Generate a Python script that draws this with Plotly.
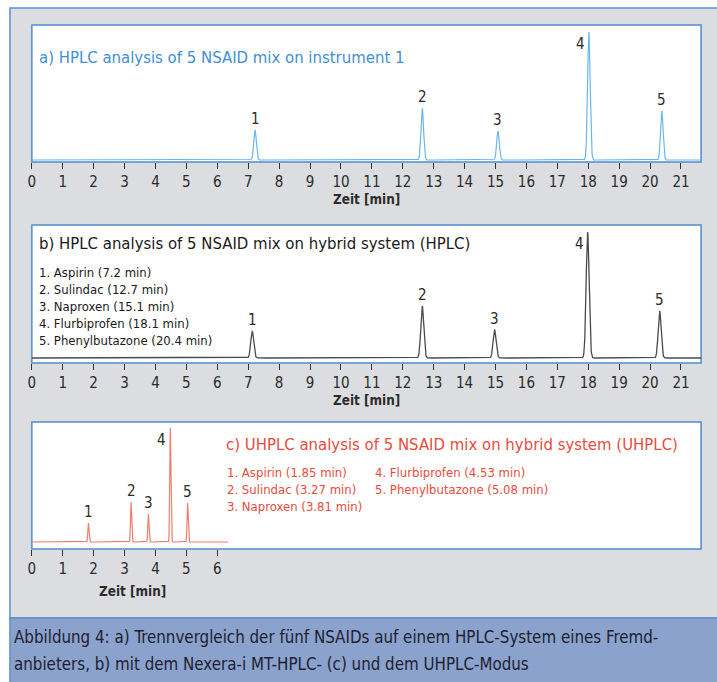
import numpy as np
import plotly.graph_objects as go

W, H = 717, 682

# ---- data ----
peak_ids = ["1", "2", "3", "4", "5"]
rt_a = [7.22, 12.63, 15.08, 18.02, 20.38]
h_a = [30, 52, 29, 128, 49]
rt_b = [7.13, 12.63, 14.97, 17.98, 20.31]
h_b = [27, 52, 28, 126, 47]
rt_c = [1.83, 3.21, 3.77, 4.48, 5.04]
h_c = [19, 40, 28, 114, 39]

ticks_hplc = list(range(0, 22))
ticks_uhplc = list(range(0, 7))

title_a = "a) HPLC analysis of 5 NSAID mix on instrument 1"
title_b = "b) HPLC analysis of 5 NSAID mix on hybrid system (HPLC)"
title_c = "c) UHPLC analysis of 5 NSAID mix on hybrid system (UHPLC)"
legend_b = ["1. Aspirin (7.2 min)", "2. Sulindac (12.7 min)", "3. Naproxen (15.1 min)",
            "4. Flurbiprofen (18.1 min)", "5. Phenylbutazone (20.4 min)"]
legend_c = ["1. Aspirin (1.85 min)", "2. Sulindac (3.27 min)", "3. Naproxen (3.81 min)",
            "4. Flurbiprofen (4.53 min)", "5. Phenylbutazone (5.08 min)"]
caption = ["Abbildung 4: a) Trennvergleich der fünf NSAIDs auf einem HPLC-System eines Fremd-",
           "anbieters, b) mit dem Nexera-i MT-HPLC- (c) und dem UHPLC-Modus"]
xlabel = "Zeit [min]"

FONT = "DejaVu Sans Condensed, Liberation Sans Narrow, sans-serif"
BLUE_TXT = "#3f8fd4"
RED_TXT = "#e84c3d"
DARK = "#2b2b2b"
BOX = "#4f8ccc"


def px(x):
    return x / W


def py(y):
    return 1 - y / H


def chromatogram(rts, hs, sigma, xmax):
    t = np.linspace(0, xmax, 6000)
    y = np.zeros_like(t)
    for r, h in zip(rts, hs):
        y += h * np.exp(-0.5 * ((t - r) / sigma) ** 2)
    return t, y


XR = [0, 21.65]
fig = go.Figure()

ta, ya = chromatogram(rt_a, h_a, 0.042, XR[1])
tb, yb = chromatogram(rt_b, h_b, 0.048, XR[1])
tc, yc = chromatogram(rt_c, h_c, 0.018, 6.35)

fig.add_trace(go.Scatter(x=ta, y=ya, mode="lines", line=dict(color="#6ab6ee", width=1.2),
                         xaxis="x", yaxis="y", hoverinfo="skip", showlegend=False))
fig.add_trace(go.Scatter(x=tb, y=yb, mode="lines", line=dict(color="#4a4a4a", width=1.3),
                         xaxis="x2", yaxis="y2", hoverinfo="skip", showlegend=False))
fig.add_trace(go.Scatter(x=tc, y=yc, mode="lines", line=dict(color="#ef7d6d", width=1.2),
                         xaxis="x3", yaxis="y3", hoverinfo="skip", showlegend=False))

dom_x = [px(28), px(701)]
panels = [
    ("", (25, 162), [-2, 135], ticks_hplc),
    ("2", (225, 363), [-5, 133], ticks_hplc),
    ("3", (422, 549), [-7, 120], ticks_uhplc),
]
layout_axes = {}
shapes = []
# outer gray frame
shapes.append(dict(type="rect", xref="paper", yref="paper", x0=px(6), x1=1.02,
                   y0=py(618), y1=py(8), fillcolor="#dcdde0",
                   line=dict(color="#5a8fd0", width=1.5), layer="below"))
# caption band
shapes.append(dict(type="rect", xref="paper", yref="paper", x0=px(6), x1=1.02,
                   y0=-0.02, y1=py(618), fillcolor="#8aa2cc",
                   line=dict(color="#5a8fd0", width=1.5), layer="below"))

for suf, (top, bot), yr, tv in panels:
    xa = "xaxis" + suf
    ya_ = "yaxis" + suf
    layout_axes[xa] = dict(domain=dom_x, range=XR, anchor="y" + suf, tickvals=tv,
                           ticktext=[str(v) for v in tv], ticks="outside", ticklen=6,
                           tickwidth=1.2, tickcolor="#333333", showline=False,
                           showgrid=False, zeroline=False,
                           tickfont=dict(family=FONT, size=15, color=DARK))
    layout_axes[ya_] = dict(domain=[py(bot), py(top)], range=yr, anchor="x" + suf,
                            visible=False, showgrid=False, zeroline=False)
    shapes.append(dict(type="rect", xref="x" + suf + " domain" if suf else "x domain",
                       yref="y" + suf + " domain" if suf else "y domain",
                       x0=0, x1=1, y0=0, y1=1, fillcolor="white",
                       line=dict(color=BOX, width=1.5), layer="below"))

ann = []


def text(x, y, s, size, color, xanchor="left", bold=False):
    if xanchor == "left":
        x -= 4
    ann.append(dict(x=px(x), y=py(y), xref="paper", yref="paper", text=(f"<b>{s}</b>" if bold else s),
                    showarrow=False, xanchor=xanchor, yanchor="middle",
                    font=dict(family=FONT, size=size, color=color)))


def peak_labels(rts, hs, axsuf, left_id="4"):
    for pid, r, h in zip(peak_ids, rts, hs):
        if pid == left_id:
            ann.append(dict(x=r, y=h, xref="x" + axsuf, yref="y" + axsuf, text=pid,
                            showarrow=False, xanchor="right", yanchor="top", xshift=-2, yshift=-1,
                            font=dict(family=FONT, size=15, color=DARK)))
        else:
            ann.append(dict(x=r, y=h, xref="x" + axsuf, yref="y" + axsuf, text=pid,
                            showarrow=False, xanchor="center", yanchor="bottom", yshift=0,
                            font=dict(family=FONT, size=15, color=DARK)))


peak_labels(rt_a, h_a, "")
peak_labels(rt_b, h_b, "2")
peak_labels(rt_c, h_c, "3")

text(37, 57, title_a, 16.6, BLUE_TXT)
text(37, 243, title_b, 16.6, "#1a1a1a")
for i, s in enumerate(legend_b):
    text(37, 272 + i * 17.2, s, 13, "#1a1a1a")
text(225, 444, title_c, 16.6, RED_TXT)
for i, s in enumerate(legend_c[:3]):
    text(226, 472 + i * 17.3, s, 13, RED_TXT)
for i, s in enumerate(legend_c[3:]):
    text(375, 472 + i * 17.3, s, 13, RED_TXT)

text(365, 200, xlabel, 13.4, DARK, xanchor="center", bold=True)
text(365, 400, xlabel, 13.4, DARK, xanchor="center", bold=True)
text(129, 591, xlabel, 13.4, DARK, xanchor="center", bold=True)

text(12, 637, caption[0], 16.8, "#1e2130")
text(12, 664, caption[1], 16.8, "#1e2130")

fig.update_layout(width=W, height=H, margin=dict(l=0, r=0, t=0, b=0),
                  paper_bgcolor="white", plot_bgcolor="rgba(0,0,0,0)",
                  showlegend=False, shapes=shapes, annotations=ann, **layout_axes)

fig.write_html("out.html")
